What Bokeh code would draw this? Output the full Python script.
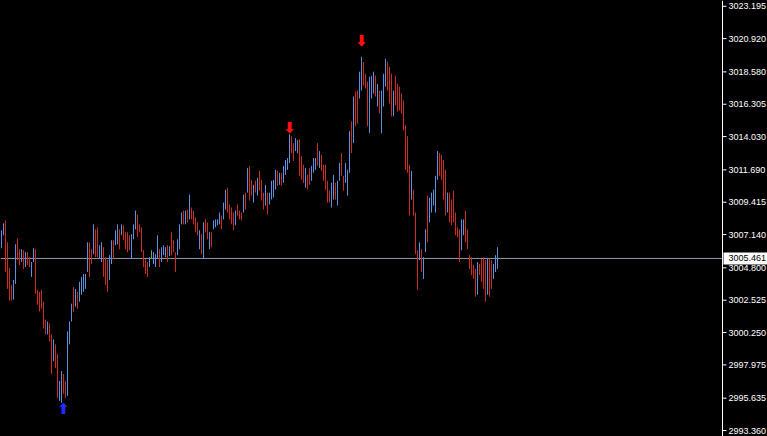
from bokeh.plotting import figure
from bokeh.models import ColumnDataSource, Range1d, Span
from bokeh.core.properties import value
from bokeh.embed import file_html
from bokeh.resources import INLINE

# ---- data (M1-style bar chart, one bar per index) ----
highs = [
    3007.44, 3007.93, 3008.14, 3006.60, 3004.79, 3003.60, 3003.95, 3006.46, 3006.88, 3006.11,
    3006.11, 3006.04, 3005.90, 3005.90, 3005.55, 3005.21, 3006.18, 3006.11, 3003.25, 3003.12,
    3003.25, 3002.42, 3001.17, 3001.03, 3000.89, 3000.12, 2999.77, 2999.42, 2998.73, 2996.85,
    2997.54, 2997.33, 2996.85, 3000.33, 3001.03, 3002.28, 3003.46, 3003.32, 3003.12, 3003.81,
    3004.16, 3004.37, 3004.37, 3006.60, 3006.60, 3006.11, 3007.86, 3007.51, 3007.65, 3006.39,
    3006.60, 3006.25, 3005.55, 3005.35, 3005.69, 3006.74, 3006.74, 3007.44, 3007.86, 3007.51,
    3007.86, 3007.79, 3007.30, 3007.30, 3007.09, 3007.16, 3007.86, 3008.83, 3008.55, 3007.86,
    3007.65, 3006.04, 3005.42, 3005.21, 3005.55, 3006.04, 3005.90, 3005.76, 3007.09, 3006.11,
    3006.25, 3006.39, 3006.25, 3006.39, 3006.32, 3007.30, 3006.74, 3005.90, 3006.81, 3007.86,
    3008.69, 3008.83, 3008.83, 3008.90, 3009.95, 3009.04, 3008.83, 3008.35, 3008.00, 3007.44,
    3007.16, 3008.00, 3008.21, 3008.00, 3007.30, 3007.30, 3008.14, 3008.21, 3008.21, 3008.69,
    3008.48, 3009.39, 3010.30, 3010.44, 3009.25, 3009.04, 3008.69, 3008.83, 3009.25, 3008.83,
    3008.69, 3009.95, 3010.09, 3011.83, 3011.97, 3010.99, 3010.64, 3010.92, 3011.13, 3011.62,
    3010.99, 3010.09, 3010.64, 3010.09, 3010.09, 3010.92, 3010.99, 3011.69, 3011.62, 3011.48,
    3011.48, 3011.97, 3012.39, 3012.52, 3014.20, 3014.06, 3013.57, 3013.92, 3013.78, 3013.85,
    3012.66, 3012.04, 3011.83, 3011.34, 3011.83, 3011.97, 3012.52, 3012.52, 3013.57, 3013.01,
    3012.73, 3012.04, 3012.04, 3010.92, 3010.23, 3010.78, 3011.34, 3010.78, 3010.92, 3012.18,
    3012.87, 3011.27, 3012.18, 3011.69, 3014.41, 3015.10, 3016.85, 3017.20, 3017.27, 3018.59,
    3019.64, 3019.29, 3018.45, 3017.89, 3018.24, 3018.31, 3018.59, 3018.31, 3017.75, 3017.27,
    3017.27, 3018.45, 3019.50, 3019.29, 3018.94, 3018.45, 3017.27, 3018.31, 3017.75, 3017.54,
    3017.06, 3016.57, 3014.82, 3014.06, 3012.04, 3011.62, 3010.30, 3008.69, 3006.04, 3006.60,
    3006.11, 3005.55, 3007.51, 3009.88, 3009.74, 3010.09, 3010.30, 3011.27, 3013.01, 3012.87,
    3012.73, 3012.39, 3011.69, 3010.09, 3010.09, 3009.60, 3010.23, 3008.69, 3007.65, 3007.51,
    3008.21, 3008.21, 3008.83, 3007.51, 3005.69, 3005.55, 3005.00, 3004.72, 3005.21, 3005.07,
    3005.42, 3005.55, 3005.35, 3005.42, 3005.42, 3005.35, 3005.07, 3005.69, 3006.25,
]

lows = [
    3006.18, 3007.09, 3004.51, 3003.32, 3002.49, 3002.49, 3002.56, 3003.67, 3005.34, 3005.00,
    3005.21, 3004.72, 3004.86, 3005.00, 3004.86, 3004.16, 3005.21, 3002.98, 3002.21, 3001.72,
    3001.93, 3000.54, 3000.12, 3000.12, 2999.63, 2997.33, 2998.24, 2997.75, 2995.66, 2995.45,
    2995.31, 2995.94, 2995.66, 2995.80, 2999.42, 3001.03, 3001.72, 3002.07, 3001.93, 3002.42,
    3002.91, 3003.12, 3003.32, 3004.51, 3004.16, 3005.07, 3005.76, 3005.55, 3005.55, 3005.42,
    3005.21, 3004.16, 3003.60, 3003.12, 3003.95, 3005.07, 3005.42, 3006.39, 3006.46, 3006.11,
    3007.09, 3006.74, 3006.11, 3005.90, 3006.04, 3005.42, 3006.81, 3007.51, 3006.95, 3007.30,
    3005.90, 3004.86, 3004.37, 3004.16, 3004.86, 3005.42, 3005.07, 3004.86, 3005.42, 3004.86,
    3005.21, 3005.69, 3005.55, 3005.21, 3005.62, 3005.69, 3005.90, 3004.51, 3005.69, 3006.11,
    3007.86, 3007.86, 3007.86, 3008.00, 3008.21, 3008.21, 3007.86, 3007.30, 3007.09, 3006.11,
    3005.76, 3005.42, 3007.30, 3006.81, 3006.11, 3006.25, 3007.51, 3007.65, 3007.79, 3007.86,
    3007.51, 3008.21, 3008.90, 3008.69, 3008.21, 3007.86, 3007.44, 3007.79, 3008.48, 3008.21,
    3008.14, 3008.69, 3008.90, 3010.09, 3009.53, 3009.88, 3009.39, 3010.09, 3009.88, 3010.23,
    3009.53, 3008.90, 3009.18, 3008.55, 3009.25, 3009.60, 3009.74, 3010.30, 3010.57, 3010.64,
    3010.57, 3010.78, 3011.34, 3011.69, 3012.18, 3012.87, 3012.32, 3013.01, 3012.87, 3011.27,
    3010.99, 3010.78, 3010.44, 3010.30, 3010.64, 3010.92, 3011.48, 3011.69, 3011.97, 3011.83,
    3011.62, 3010.92, 3010.30, 3009.39, 3009.39, 3009.04, 3009.60, 3009.60, 3009.18, 3010.92,
    3011.27, 3010.23, 3010.78, 3009.88, 3011.48, 3012.87, 3013.57, 3014.75, 3014.96, 3016.71,
    3017.27, 3017.61, 3017.41, 3014.75, 3014.27, 3016.71, 3017.06, 3016.85, 3016.15, 3015.66,
    3014.27, 3016.15, 3017.54, 3017.27, 3016.36, 3015.45, 3015.45, 3016.22, 3015.80, 3015.87,
    3015.66, 3014.48, 3011.69, 3011.48, 3008.48, 3009.60, 3008.48, 3005.76, 3003.25, 3005.35,
    3004.51, 3004.02, 3005.90, 3006.60, 3008.00, 3008.69, 3009.18, 3008.69, 3010.99, 3011.27,
    3010.99, 3009.60, 3008.48, 3008.69, 3008.00, 3007.79, 3008.00, 3007.09, 3006.95, 3005.21,
    3006.04, 3007.09, 3006.60, 3006.11, 3004.72, 3004.30, 3004.02, 3002.77, 3002.91, 3004.30,
    3003.81, 3003.32, 3002.42, 3002.91, 3002.77, 3003.32, 3004.02, 3004.51, 3004.72,
]

# u = bull bar, d = bear bar, n = doji
direction = (
    "uudddduudd" "ududduuddd" "dddudduddu" "udduuududu" "uuuudduddu"
    "uddduuduud" "udddduuudd" "ddddunuuud" "uuududdduu" "udududdddu"
    "dudduduuuu" "duuddddudd" "dududdudud" "dduduuuudu" "duuuudduud"
    "ddudduuudu" "ddddduuduu" "dduuududdu" "uddduuudud" "uuuddduddd"
    "dddddudddu" "duuduuuuud" "dddudddddd" "uuddddddud" "dddudduuu"
)

# fractal arrows: bar index, price position, kind
arrow_idx = [144, 180, 31]
arrow_price = [3014.62, 3020.75, 2994.89]
arrow_kind = ["down", "down", "up"]

# price scale labels and current bid
tick_values = [3023.195, 3020.920, 3018.580, 3016.305, 3014.030, 3011.690, 3009.415,
               3007.140, 3004.800, 3002.525, 3000.250, 2997.975, 2995.635, 2993.360]
bid_price = 3005.461
y_low, y_high = 2992.94, 3023.60

# ---- layout constants (pixels) ----
W, H = 767, 436
PX_PER_BAR = 2
SCALE_X_PX = 722.0          # price-scale line position inside the canvas
x_start = -0.5
x_end = x_start + W / PX_PER_BAR
scale_x = x_start + SCALE_X_PX / PX_PER_BAR
px = 1.0 / PX_PER_BAR       # one pixel in x data units

n = min(len(highs), len(lows), len(direction))
color_map = {"u": "#5b8fdf", "d": "#cf2a20", "n": "#6fae3c"}
src = ColumnDataSource(dict(
    x=list(range(n)),
    high=highs[:n],
    low=lows[:n],
    color=[color_map[c] for c in direction[:n]],
))

p = figure(width=W, height=H, output_backend="svg", toolbar_location=None,
           x_range=Range1d(x_start, x_end), y_range=Range1d(y_low, y_high),
           x_axis_location=None, y_axis_location=None,
           background_fill_color="black", border_fill_color="black",
           min_border=0)
p.grid.visible = False
p.outline_line_color = None

# bid line across the chart area
p.segment(x0=[x_start], y0=[bid_price], x1=[scale_x], y1=[bid_price],
          line_color="#8e9aab", line_width=1)

# OHLC bars (high-low lines)
p.segment(x0="x", y0="low", x1="x", y1="high", line_color="color", line_width=1, source=src)

# fractal arrows
down_src = ColumnDataSource(dict(
    x=[i for i, k in zip(arrow_idx, arrow_kind) if k == "down"],
    y=[v for v, k in zip(arrow_price, arrow_kind) if k == "down"],
    t=["\u2b07" for k in arrow_kind if k == "down"],
))
up_src = ColumnDataSource(dict(
    x=[i for i, k in zip(arrow_idx, arrow_kind) if k == "up"],
    y=[v for v, k in zip(arrow_price, arrow_kind) if k == "up"],
    t=["\u2b06" for k in arrow_kind if k == "up"],
))
p.text(x="x", y="y", text="t", source=down_src, text_color="#ff1010",
       text_font=value("DejaVu Sans"), text_font_size="15px", text_font_style="bold",
       text_align="center", text_baseline="middle")
p.text(x="x", y="y", text="t", source=up_src, text_color="#1f2bff",
       text_font=value("DejaVu Sans"), text_font_size="15px", text_font_style="bold",
       text_align="center", text_baseline="middle")

# ---- price scale (MetaTrader style, on the right) ----
p.add_layout(Span(location=scale_x, dimension="height", line_color="white", line_width=1))
tick_src = ColumnDataSource(dict(
    x0=[scale_x] * len(tick_values),
    x1=[scale_x + 4 * px] * len(tick_values),
    xl=[scale_x + 6 * px] * len(tick_values),
    y=tick_values,
    label=[f"{v:.3f}" for v in tick_values],
))
p.segment(x0="x0", y0="y", x1="x1", y1="y", source=tick_src, line_color="white", line_width=1)
p.text(x="xl", y="y", text="label", source=tick_src, text_color="white",
       text_font=value("Liberation Sans"), text_font_size="9px",
       text_align="left", text_baseline="middle")

# current bid label box
p.rect(x=[(scale_x + x_end) / 2 + 0.5 * px], y=[bid_price], width=W - SCALE_X_PX - 1, height=12,
       width_units="screen", height_units="screen", fill_color="white", line_color=None)
p.text(x=[scale_x + 6 * px], y=[bid_price], text=[f"{bid_price:.3f}"], text_color="black",
       text_font=value("Liberation Sans"), text_font_size="9px",
       text_align="left", text_baseline="middle")

html = file_html(p, INLINE)
html = html.replace("<head>", "<head><style>body{background:#000;}</style>", 1)
open("out.html", "w").write(html)
